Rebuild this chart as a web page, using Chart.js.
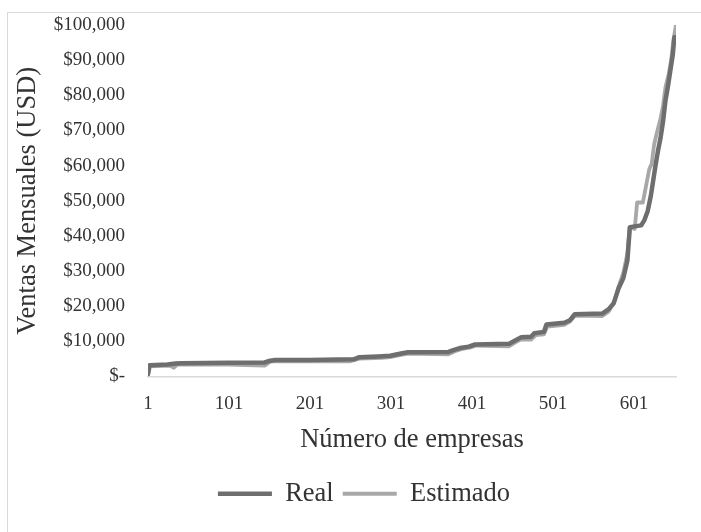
<!DOCTYPE html>
<html>
<head>
<meta charset="utf-8">
<script src="https://cdn.jsdelivr.net/npm/chart.js@4.4.1/dist/chart.umd.min.js"></script>
<style>
  html, body { margin:0; padding:0; background:#fff; overflow:hidden; }
  #frame { position:absolute; left:7px; top:12px; width:760px; height:600px; border:1.5px solid #d9d9d9; }
  #wrap { position:absolute; left:0; top:0; width:701px; height:532px; }
</style>
</head>
<body>
<div id="frame"></div>
<div id="wrap"><canvas id="chart" width="701" height="532"></canvas></div>
<script>
// Ventas mensuales: real vs estimado (empresas ordenadas por ventas reales)
const xTicks = [1, 101, 201, 301, 401, 501, 601];
const yTickLabels = ['$-','$10,000','$20,000','$30,000','$40,000','$50,000','$60,000','$70,000','$80,000','$90,000','$100,000'];

const realX = [1, 3, 25, 35, 42, 100, 145, 150, 158, 200, 255, 262, 285, 300, 315, 322, 372, 378, 386, 397, 405, 447, 455, 462, 474, 478, 490, 493, 515, 522, 528, 562, 570, 576, 582, 588, 593, 596, 610, 614, 618, 622, 628, 631, 634, 637, 640, 643, 646, 649, 651, 653];
const realY = [700, 3200, 3400, 3700, 3800, 3900, 4000, 4400, 4700, 4700, 4900, 5500, 5700, 5900, 6600, 6900, 7000, 7500, 8100, 8500, 9100, 9300, 10300, 11200, 11300, 12300, 12700, 14800, 15300, 16000, 17700, 17900, 19200, 20800, 25000, 28000, 33000, 42500, 43000, 44500, 47000, 51500, 60500, 64500, 68000, 72500, 78500, 82500, 87000, 91500, 96500, 96500];

const estX = [1, 3, 28, 33, 37, 100, 145, 152, 158, 250, 262, 290, 300, 315, 322, 372, 380, 388, 400, 406, 447, 455, 462, 474, 480, 490, 494, 515, 522, 528, 562, 570, 577, 582, 588, 593, 596, 602, 605, 612, 615, 620, 623, 626, 629, 634, 637, 640, 644, 647, 650, 653];
const estY = [500, 2900, 3100, 2500, 3400, 3400, 3100, 4200, 4400, 4300, 5100, 5300, 5500, 6200, 6500, 6300, 7200, 7800, 8300, 8800, 8600, 9800, 10600, 10500, 11800, 12000, 14200, 14700, 15600, 17300, 17200, 18500, 21500, 25500, 29500, 35000, 42500, 42000, 49500, 49500, 53000, 59000, 60500, 66000, 69000, 73500, 77000, 82300, 86000, 90000, 96000, 100000];

const toPoints = (xs, ys) => xs.map((x, i) => ({ x, y: ys[i] }));

const serif = "'Liberation Serif', 'Times New Roman', serif";
const textColor = '#333333';
const LEFT_PAD = 52;

new Chart(document.getElementById('chart'), {
  type: 'line',
  data: {
    datasets: [
      { label:'Real', data: toPoints(realX, realY), borderColor:'#6e6e6e', backgroundColor:'#6e6e6e',
        borderWidth:4.5, pointRadius:0, tension:0, borderCapStyle:'round', borderJoinStyle:'round', pointStyle:'line' },
      { label:'Estimado', data: toPoints(estX, estY), borderColor:'#a8a8a8', backgroundColor:'#a8a8a8',
        borderWidth:3.8, pointRadius:0, tension:0, borderCapStyle:'round', borderJoinStyle:'round', pointStyle:'line' }
    ]
  },
  options: {
    responsive:false,
    animation:false,
    layout:{ padding:{ left:LEFT_PAD, top:25, right:25, bottom:15 } },
    plugins:{
      tooltip:{ enabled:false },
      legend:{
        position:'bottom',
        labels:{
          usePointStyle:true, pointStyleWidth:54, boxHeight:4, padding:9,
          color:textColor, font:{ family:serif, size:26.5 }
        }
      }
    },
    scales:{
      x:{
        type:'linear', min:1, max:653,
        afterBuildTicks: s => { s.ticks = xTicks.map(v => ({ value:v })); },
        afterFit: s => { s.height = 95; },
        grid:{ display:false, drawTicks:false },
        border:{ display:true, color:'#d9d9d9', width:1.5 },
        ticks:{ padding:16, color:textColor, font:{ family:serif, size:19 }, maxRotation:0, callback: v => String(v) },
        title:{ display:true, text:'Número de empresas', color:textColor, font:{ family:serif, size:26.5 }, padding:{ top:0, bottom:16 } }
      },
      y:{
        min:0, max:100000,
        afterBuildTicks: s => { s.ticks = yTickLabels.map((_, i) => ({ value:i*10000 })); },
        afterFit: s => { s.width = 148 - LEFT_PAD; },
        grid:{ display:false, drawTicks:true, tickLength:20 },
        border:{ display:false },
        ticks:{ padding:3, color:textColor, font:{ family:serif, size:19 }, callback: (v, i) => yTickLabels[i] },
        title:{ display:true, text:'Ventas Mensuales (USD)', color:textColor, font:{ family:serif, size:26.5 }, padding:{ top:-40, bottom:0 } }
      }
    }
  }
});
</script>
</body>
</html>
